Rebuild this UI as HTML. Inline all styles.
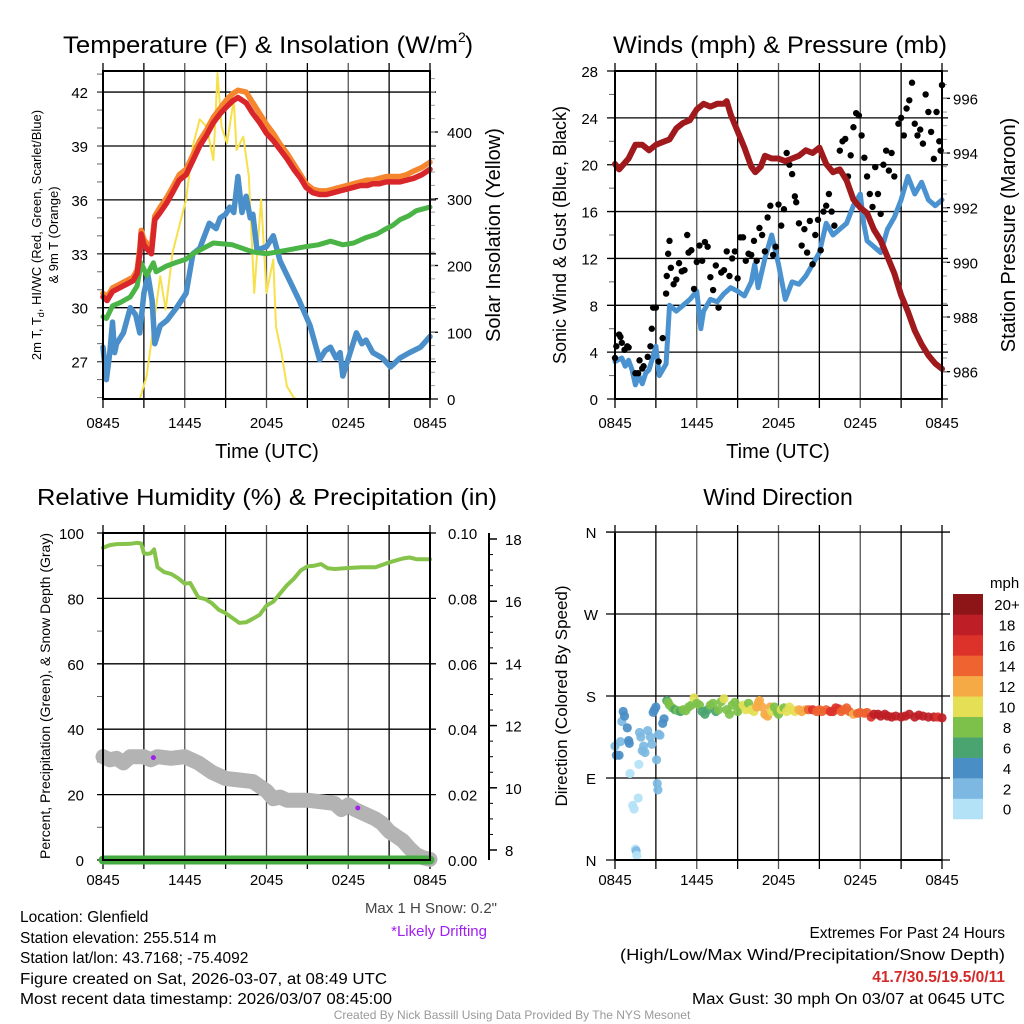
<!DOCTYPE html>
<html><head><meta charset="utf-8"><style>
html,body{margin:0;padding:0;background:#fff}
svg{display:block;font-family:"Liberation Sans",sans-serif}
</style></head><body>
<svg id="root" width="1024" height="1024" viewBox="0 0 1024 1024" xmlns="http://www.w3.org/2000/svg">
<g id="grids"></g>
<g id="marks"></g>
<g id="frames"></g>
<g id="labels" font-size="15" fill="#000"></g>
<g fill="#000">
<text x="63" y="53" font-size="24" textLength="395" lengthAdjust="spacingAndGlyphs">Temperature (F) &amp; Insolation (W/m</text>
<text x="458" y="42" font-size="14">2</text>
<text x="465" y="53" font-size="24">)</text>
<text x="613" y="53" font-size="24" textLength="334" lengthAdjust="spacingAndGlyphs">Winds (mph) &amp; Pressure (mb)</text>
<text x="267" y="505" font-size="23" text-anchor="middle" textLength="460" lengthAdjust="spacingAndGlyphs">Relative Humidity (%) &amp; Precipitation (in)</text>
<text x="778" y="505" font-size="23" text-anchor="middle">Wind Direction</text>
<text x="267" y="458" font-size="20" text-anchor="middle">Time (UTC)</text>
<text x="778" y="458" font-size="20" text-anchor="middle">Time (UTC)</text>
<text transform="translate(41,235) rotate(-90)" font-size="13" text-anchor="middle">2m T, T<tspan font-size="9" dy="3">d</tspan><tspan dy="-3">, HI/WC (Red, Green, Scarlet/Blue)</tspan></text>
<text transform="translate(58,235) rotate(-90)" font-size="13" text-anchor="middle">&amp; 9m T (Orange)</text>
<text transform="translate(500,235) rotate(-90)" font-size="20" text-anchor="middle">Solar Insolation (Yellow)</text>
<text transform="translate(566,235) rotate(-90)" font-size="18" text-anchor="middle">Sonic Wind &amp; Gust (Blue, Black)</text>
<text transform="translate(1015,235) rotate(-90)" font-size="20" text-anchor="middle">Station Pressure (Maroon)</text>
<text transform="translate(50,696) rotate(-90)" font-size="14" text-anchor="middle">Percent, Precipitation (Green), &amp; Snow Depth (Gray)</text>
<text transform="translate(567,696) rotate(-90)" font-size="17" text-anchor="middle">Direction (Colored By Speed)</text>
<text x="990" y="588" font-size="15">mph</text>
</g>
<g font-size="15.5" fill="#000">
<text x="497" y="913" text-anchor="end" fill="#444" font-size="15">Max 1 H Snow: 0.2"</text>
<text x="487" y="936" text-anchor="end" fill="#a020f0" font-size="15">*Likely Drifting</text>
<text x="20" y="922">Location: Glenfield</text>
<text x="20" y="943">Station elevation: 255.514 m</text>
<text x="20" y="963">Station lat/lon: 43.7168; -75.4092</text>
<text x="20" y="984" textLength="367" lengthAdjust="spacingAndGlyphs">Figure created on Sat, 2026-03-07, at 08:49 UTC</text>
<text x="20" y="1004" textLength="372" lengthAdjust="spacingAndGlyphs">Most recent data timestamp: 2026/03/07 08:45:00</text>
<text x="1005" y="938" text-anchor="end">Extremes For Past 24 Hours</text>
<text x="1005" y="960" text-anchor="end" textLength="385" lengthAdjust="spacingAndGlyphs">(High/Low/Max Wind/Precipitation/Snow Depth)</text>
<text x="1005" y="982" text-anchor="end" fill="#d42a2a" font-weight="bold">41.7/30.5/19.5/0/11</text>
<text x="1005" y="1004" text-anchor="end" textLength="313" lengthAdjust="spacingAndGlyphs">Max Gust: 30 mph On 03/07 at 0645 UTC</text>
<text x="512" y="1019" text-anchor="middle" fill="#999" font-size="12">Created By Nick Bassill Using Data Provided By The NYS Mesonet</text>
</g>
</svg>
<script>
// ---------- data ----------
const timeTicks = ["0845","1445","2045","0245","0845"];
const tempTicks = [27,30,33,36,39,42];
const solarTicks = [0,100,200,300,400];
const windTicks = [0,4,8,12,16,20,24,28];
const presTicks = [986,988,990,992,994,996];
const rhTicks = [0,20,40,60,80,100];
const precipTicks = ["0.00","0.02","0.04","0.06","0.08","0.10"];
const snowTicks = [8,10,12,14,16,18];
const dirTicks = ["N","E","S","W","N"];

const tRed = [0,0.3,0.7,1.2,1.7,2.2,2.5,2.7,2.8,3.0,3.2,3.55,3.8,4.2,4.65,5.1,5.6,6.1,6.6,7.1,7.6,8.1,8.6,9.1,9.5,9.9,10.5,11,11.5,12,12.5,13,13.5,14,14.5,14.9,15.4,15.9,16.4,16.9,17.4,17.9,18.4,18.9,19.4,19.8,20.3,20.8,21.3,21.8,22.3,22.8,23.4,24];
const tempRed = [30.6,30.4,30.9,31.1,31.3,31.5,31.9,33.0,34.1,33.5,33.3,33.0,34.9,35.3,35.8,36.4,37.1,37.4,38.2,39.0,39.6,40.3,40.8,41.2,41.5,41.7,41.4,40.8,40.3,39.7,39.3,38.8,38.3,37.7,37.2,36.7,36.4,36.3,36.3,36.4,36.5,36.6,36.7,36.8,36.8,36.9,36.9,37.0,37.0,37.0,37.1,37.2,37.4,37.7];
const tempOrange = [30.8,30.6,31.1,31.3,31.5,31.7,32.1,33.3,34.3,33.8,33.6,33.4,35.1,35.6,36.1,36.7,37.4,37.7,38.5,39.3,39.9,40.6,41.1,41.6,41.9,42.1,42.0,41.4,40.8,40.2,39.7,39.1,38.6,38.0,37.4,36.9,36.6,36.5,36.5,36.6,36.7,36.8,36.9,37.0,37.1,37.1,37.2,37.3,37.3,37.3,37.4,37.6,37.8,38.1];
const tDew = [0,0.25,0.7,1.3,2,2.5,2.8,3.2,3.7,3.9,4.6,5.3,6.1,6.6,7.1,8.1,9.5,11,12,13.5,14.9,15.8,16.7,17.6,18.4,19.3,20.1,20.8,21.3,21.8,22.4,23,24];
const dewGreen = [29.5,29.4,30.1,30.3,30.6,31.2,32.5,31.8,32.5,32.0,32.3,32.5,32.7,33.0,33.2,33.6,33.5,33.1,33.0,33.2,33.4,33.5,33.7,33.5,33.6,33.9,34.1,34.4,34.6,34.9,35.1,35.4,35.6];
const tChill = [0,0.25,0.5,0.7,0.85,1,1.5,2,2.4,2.7,3.0,3.3,3.6,3.8,4.2,4.7,5.4,6.1,6.6,7.1,7.8,8.3,8.6,9.0,9.3,9.6,9.9,10.2,10.5,10.8,11.0,11.3,12,12.5,13,13.7,14.4,15.2,15.9,16.3,16.7,17.1,17.4,17.6,18.1,18.6,19.0,19.3,19.8,20.5,21.1,21.8,22.5,23.3,24];
const chillBlue = [27.8,26.0,27.5,29.2,27.5,28.0,28.6,30.0,29.6,28.6,30.8,31.8,30.4,28.0,29.0,29.3,30.0,30.8,33.0,33.3,34.7,34.4,35.0,35.2,35.6,35.3,37.3,35.3,36.2,35.0,35.2,33.2,33.4,34.0,32.6,31.5,30.4,29.0,27.1,27.6,27.8,27.2,27.5,26.2,27.4,28.6,28.0,28.2,27.5,27.2,26.7,27.2,27.5,27.8,28.4];
const tSolar = [0,2.7,3.2,3.7,4.2,4.6,5.1,5.6,6.1,6.6,7.1,7.6,8.1,8.4,8.7,9.1,9.6,9.8,10.3,10.7,11.1,11.6,12,12.5,12.7,13.1,13.5,14,14.2,24];
const solar = [0,0,34,108,184,134,219,259,299,379,419,408,358,488,408,383,449,373,393,334,159,299,159,209,108,69,19,2,0,0];

const tWind = [0,0.5,0.75,1,1.25,1.5,1.75,2,2.25,2.5,3,3.25,3.5,3.75,4,4.5,5,5.5,6,6.3,6.5,7,7.5,8,8.5,9,9.5,10,10.25,10.5,11,11.5,12,12.5,13,13.5,14,14.5,15,15.5,16,16.5,17,17.5,18,18.25,18.5,19,19.5,20,20.5,21,21.5,22,22.5,23,23.5,24];
const windSpeed = [3.2,3.5,2.8,3.3,2.5,1.2,2.0,1.3,2.2,2.5,4.5,2.0,2.5,3.0,8.0,7.5,8.0,8.5,9.2,6.0,7.5,8.5,8.3,9.0,9.5,9.2,8.8,10.0,11.5,9.5,12.0,14.0,11.5,8.5,10.0,9.8,10.5,11.5,12.5,15.0,14.0,14.5,15.0,16.5,17.5,15.0,13.5,13.0,12.5,14.5,15.5,17.0,19.0,17.5,18.5,17.0,16.5,17.0];
const tPres = [0,0.3,1,1.5,2,2.5,3,3.5,4,4.5,5,5.5,6,6.5,7,7.5,8,8.2,8.5,9,9.5,10,10.3,10.7,11,11.5,12,12.5,13,13.5,14,14.5,15,15.5,16,16.5,17,17.5,18,18.5,19,19.5,20,20.5,21,21.5,22,22.5,23,23.5,24];
const pressure = [993.6,993.4,993.8,994.3,994.3,994.1,994.3,994.4,994.5,994.9,995.1,995.2,995.6,995.8,995.7,995.8,995.8,995.9,995.4,994.8,994.2,993.5,993.3,993.5,993.9,993.8,993.8,993.7,993.8,993.9,994.1,994.0,994.2,993.6,993.3,993.4,993.0,992.3,992.0,991.8,991.2,990.8,990.2,989.6,988.8,988.2,987.5,987.0,986.6,986.3,986.1];
const tGust = [0,0.1,0.3,0.4,0.5,0.7,0.9,1.0,1.5,1.7,1.8,2.0,2.1,2.4,2.6,2.7,2.8,3.0,3.2,3.5,3.75,3.8,3.9,4.0,4.1,4.3,4.5,4.7,4.9,5.1,5.3,5.4,5.6,5.8,6.0,6.2,6.4,6.6,6.8,7.0,7.2,7.4,7.6,7.8,8.0,8.2,8.4,8.6,8.8,9.0,9.2,9.4,9.6,9.8,10.0,10.2,10.4,10.6,10.8,11.0,11.2,11.4,11.6,11.8,12.0,12.2,12.4,12.6,12.8,13.0,13.2,13.3,13.5,13.7,13.9,14.1,14.3,14.5,14.7,14.9,15.1,15.3,15.5,15.7,15.9,16.1,16.3,16.5,16.7,16.9,17.1,17.3,17.5,17.7,17.9,18.1,18.3,18.5,18.7,18.9,19.1,19.3,19.5,19.7,19.9,20.1,20.3,20.5,20.8,21.0,21.2,21.4,21.6,21.8,22.0,22.2,22.4,22.6,22.8,23.0,23.2,23.4,23.6,23.8,23.9,24.0];
const gust = [3.5,4.5,5.5,5.3,4.8,4.2,4.5,4.4,2.2,2.2,3.3,2.6,2.8,3.6,4.5,6.0,7.8,7.8,3.2,5.2,9.0,10.5,12.4,13.5,11.2,9.8,10.2,11.6,10.9,11.0,14.0,12.5,12.7,9.4,11.7,13.1,11.8,13.4,13.0,10.4,9.3,11.4,7.8,10.8,11.0,12.6,10.5,12.0,12.6,10.3,13.8,13.8,11.8,12.4,12.3,13.5,11.8,14.6,14.0,12.6,15.5,16.5,12.3,13.0,16.6,14.8,16.2,21.0,20.0,19.2,17.3,16.8,15.0,13.1,14.5,12.5,15.2,11.5,14.0,15.3,12.7,16.0,16.5,17.5,16.0,14.8,19.5,21.2,22.0,22.2,19.0,20.8,23.2,24.4,24.2,22.5,20.6,19.0,17.5,16.4,19.8,17.5,15.8,20.0,21.2,19.5,21.0,19.0,23.5,24.0,22.5,24.8,25.5,27.0,23.5,22.5,23.0,21.8,26.0,24.5,22.8,20.5,24.5,22.0,21.2,26.8];

const tRH = [0,0.5,1,2,2.5,2.8,3,3.25,3.5,3.75,4,4.5,5,5.5,6,6.4,7,7.5,8,8.5,9,9.5,10,10.5,11,11.5,12,12.5,13,13.5,14,14.5,15,15.5,16,16.5,17,18,19,20,21,22,22.5,23,24];
const rh = [95.5,96.3,96.6,96.7,97.0,96.8,93.8,93.6,93.8,95.0,89.5,88.0,87.5,86.2,84.5,84.7,80.3,79.8,78.5,76.5,75.5,74.0,72.5,72.7,73.8,75.0,77.8,79.0,81.5,84.0,86.0,88.5,89.8,90.0,90.5,89.2,89.0,89.3,89.5,89.5,91.0,92.2,92.5,92.0,92.0];
const tSnow = [0,0.5,1,1.5,2,3,3.5,4,5,6,6.5,7,8,9,10,11,12,12.5,13,13.5,14,15,16,17,17.5,18,18.5,19,20,20.5,21,21.5,22,22.5,23,23.5,24];
const snowDepth = [11.0,10.9,10.95,10.8,11.0,11.0,10.9,11.0,10.95,11.0,10.9,10.8,10.5,10.3,10.25,10.2,9.9,9.65,9.7,9.6,9.6,9.6,9.55,9.5,9.3,9.45,9.3,9.2,9.0,8.85,8.6,8.45,8.3,8.05,7.85,7.75,7.7];
const tPrecip = [0,24];
const precip = [0,0];
const tDrift = [3.7,18.7];
const driftSnow = [10.97,9.35];

const tDir = [0,0.1,0.3,0.4,0.5,0.6,0.7,0.9,1.0,1.05,1.1,1.3,1.4,1.5,1.55,1.6,1.7,1.75,1.8,1.9,2.0,2.1,2.2,2.4,2.6,2.7,2.8,2.9,3.0,3.05,3.1,3.15,3.2,3.3,3.5,3.6,3.8,3.9,4.0,4.2,4.4,4.6,4.8,5.0,5.2,5.4,5.6,5.8,6.0,6.2,6.4,6.6,6.8,7.0,7.2,7.4,7.6,7.8,8.0,8.2,8.4,8.6,8.8,9.0,9.2,9.4,9.6,9.8,10.0,10.2,10.4,10.5,10.6,10.8,11.0,11.2,11.4,11.5,11.7,11.9,12.0,12.2,12.4,12.6,12.8,13.0,13.2,13.5,13.7,14.0,14.2,14.5,14.8,15.0,15.2,15.5,15.8,16.0,16.2,16.4,16.6,16.8,17.0,17.2,17.5,17.8,18.0,18.3,18.5,18.8,19.0,19.3,19.5,19.8,20.0,20.3,20.6,21.0,21.3,21.6,22.0,22.3,22.6,23.0,23.4,23.7,24.0];
const direction = [125,115,115,130,152,163,158,145,131,128,95,60,56,12,10,5,68,105,140,135,120,125,118,142,135,127,162,165,168,110,84,77,138,137,150,155,175,173,170,167,165,164,163,165,164,168,170,178,172,170,163,160,165,170,172,163,165,174,177,165,160,170,173,163,168,170,165,172,165,163,168,172,175,168,160,158,168,163,168,163,160,165,167,163,168,165,163,165,163,165,165,165,163,165,163,165,163,163,167,166,163,165,167,163,160,161,162,161,162,157,160,160,158,160,158,157,158,157,158,160,157,159,158,157,157,157,156];
const dirSpeed = [3,4,4,3,3,4,4,4,4,4,1,1,0,1,2,1,0,1,2,2,2,2,2,2,2,2,4,4,4,3,3,3,2,2,4,4,7,8,8,8,7,8,7,8,8,8,8,10,8,8,6,6,7,8,8,7,8,8,10,9,8,9,8,8,9,10,10,9,10,10,12,12,13,12,13,13,12,10,9,8,8,10,9,10,10,11,11,12,12,13,14,16,15,14,14,15,16,17,16,16,15,14,14,14,13,14,14,14,14,16,18,18,18,18,19,18,18,19,18,18,18,18,18,18,18,17,18];
const speedBins = ["0","2","4","6","8","10","12","14","16","18","20+"];
const speedColors = ["#b3e2f7","#7cb8e2","#4a8ec6","#4aa46f","#7dc14a","#e4df55","#f6aa46","#ee6330","#dc3229","#be1e26","#8d1518"];

// ---------- helpers ----------
const NS = "http://www.w3.org/2000/svg";
const G = id => document.getElementById(id);
function el(tag, attrs, parent){ const e=document.createElementNS(NS,tag); for(const k in attrs) e.setAttribute(k,attrs[k]); parent.appendChild(e); return e; }
const W = 327;
const xA = t => 103 + t/24*W;
const xB = t => 615 + t/24*W;
const yTemp = v => 399 - (v-24.92)*17.97;
const ySol = v => 399 - v*0.6675;
const yWind = v => 399 - v*11.714;
const yPres = v => 399 - (v-985)*27.33;
const yRH = v => 860 - v*3.27;
const ySnow = v => 850 - (v-8)*31.1;
const yDir = d => 860 - d*0.911;

function pathD(ts, vs, fx, fy){ return ts.map((t,i)=>(i?"L":"M")+fx(t).toFixed(1)+","+fy(vs[i]).toFixed(1)).join(""); }
function drawLine(ts, vs, fx, fy, color, w, name){
  const p = el("path",{d:pathD(ts,vs,fx,fy),fill:"none",stroke:color,"stroke-width":w,"stroke-linejoin":"round","stroke-linecap":"round"},G("marks"));
  
  
  return p;
}
function txt(x,y,s,anchor,size,parent,name){
  const t = el("text",{x:x,y:y,"text-anchor":anchor||"start"},parent||G("labels"));
  if(size) t.setAttribute("font-size",size);
  t.textContent = s;
  
  
  return t;
}
function gl(x1,y1,x2,y2,color,w,parent){
  const l = el("line",{x1:x1,y1:y1,x2:x2,y2:y2,stroke:color,"stroke-width":w},parent||G("grids"));
  
  
  return l;
}
function box(x0,y0,x1,y1,name){
  const r = el("rect",{x:x0,y:y0,width:x1-x0,height:y1-y0,fill:"none",stroke:"#000","stroke-width":2},G("frames"));
  
  
}
function vgrid(fx, top, bot){
  for(let i=1;i<8;i++){ gl(fx(i*3),top-8,fx(i*3),bot+9,(i%2)?"#000":"#555",1.3); }
  gl(fx(0),top-8,fx(0),bot+9,"#000",1.3); gl(fx(24),top-8,fx(24),bot+9,"#000",1.3);
}
function xlabels(fx, y){ timeTicks.forEach((s,i)=>txt(fx(i*6),y,s,"middle",15,null,'x-tick-label')); }

// ---------- panel 1: temperature ----------
vgrid(xA,71,399);
tempTicks.forEach(v=>{ gl(97,yTemp(v),436,yTemp(v),"#000",1.3); txt(88,yTemp(v)+6,String(v),"end",15,null,'temp-tick-label'); });
for(let v=25;v<=43;v++){ gl(97,yTemp(v),103,yTemp(v),"#666",1); }
solarTicks.forEach(v=>{ gl(430,ySol(v),438,ySol(v),"#000",1.3); txt(447,ySol(v)+6,String(v),"start",15,null,'solar-tick-label'); });
for(let v=20;v<=480;v+=20){ gl(430,ySol(v),435,ySol(v),"#999",1); }
xlabels(xA,428);
drawLine(tSolar,solar,xA,ySol,"#f7e04a",2,'solar-insolation-line');
drawLine(tChill,chillBlue,xA,yTemp,"#4a8fc9",5.5,'wind-chill-line');
drawLine(tDew,dewGreen,xA,yTemp,"#4bb446",5,'dewpoint-line');
drawLine(tRed,tempOrange,xA,yTemp,"#f5862e",5.5,'temp-9m-line');
drawLine(tRed,tempRed,xA,yTemp,"#d8262a",5.5,'temp-2m-line');
box(103,71,430,399,'temp-plot-frame');

// ---------- panel 2: winds ----------
vgrid(xB,71,399);
windTicks.forEach(v=>{ gl(607,yWind(v),948,yWind(v),"#000",1.3); txt(598,yWind(v)+6,String(v),"end",15,null,'wind-tick-label'); });
for(let v=2;v<28;v+=4){ gl(609,yWind(v),615,yWind(v),"#666",1); }
presTicks.forEach(v=>{ gl(942,yPres(v),950,yPres(v),"#000",1.3); txt(953,yPres(v)+6,String(v),"start",15,null,'pressure-tick-label'); });
for(let v=985.5;v<997;v+=0.5){ gl(942,yPres(v),947,yPres(v),"#999",1); }
xlabels(xB,428);
drawLine(tWind,windSpeed,xB,yWind,"#4a93d0",5,'sonic-wind-line');
tGust.forEach((t,i)=>{
  const c = el("circle",{cx:xB(t),cy:yWind(gust[i]),r:3.2,fill:"#000"},G("marks"));
  
  
});
drawLine(tPres,pressure,xB,yPres,"#a01a1d",6,'pressure-line');
box(615,71,942,399,'winds-plot-frame');

// ---------- panel 3: humidity ----------
vgrid(xA,533,860);
rhTicks.forEach((v,i)=>{ gl(97,yRH(v),436,yRH(v),"#000",1.3); txt(84,yRH(v)+6,String(v),"end",15,null,'rh-tick-label'); txt(448,yRH(v)+6,precipTicks[i],"start",15,null,'precip-tick-label'); });
for(let v=10;v<100;v+=20){ gl(97,yRH(v),103,yRH(v),"#666",1); }
gl(489,533,489,860,"#000",2,G("frames"));
snowTicks.forEach(v=>{ gl(489,ySnow(v),497,ySnow(v),"#000",1.5,G("frames")); txt(505,ySnow(v)+6,String(v),"start",15,null,'snow-tick-label'); });
for(let v=8.5;v<18;v+=0.5){ gl(489,ySnow(v),493,ySnow(v),"#000",1,G("frames")); }
xlabels(xA,885);
drawLine(tSnow,snowDepth,xA,ySnow,"#b3b3b3",15,'snow-depth-line');
drawLine(tRH,rh,xA,yRH,"#86c34a",4,'relative-humidity-line');
drawLine(tPrecip,precip,xA,yRH,"#43ab3f",9,'precipitation-line');
tDrift.forEach((t,i)=>{
  const c = el("circle",{cx:xA(t),cy:ySnow(driftSnow[i]),r:2.5,fill:"#a020f0"},G("marks"));
  
  
});
box(103,533,430,860,'humidity-plot-frame');

// ---------- panel 4: wind direction ----------
vgrid(xB,533,860);
dirTicks.forEach((s,i)=>{ gl(606,yDir(i*90),950,yDir(i*90),"#000",1.3); txt(591,yDir(i*90)+6,s,"middle",15,null,'direction-tick-label'); });
xlabels(xB,885);
tDir.forEach((t,i)=>{
  const b = Math.min(10, Math.floor(dirSpeed[i]/2));
  const c = el("circle",{cx:xB(t),cy:yDir(direction[i]),r:4.6,fill:speedColors[b],"fill-opacity":0.92},G("marks"));
  
  
});
const cbTop=594, cbH=20.45;
speedBins.forEach((s,i)=>{
  const y = cbTop + (10-i)*cbH;
  const r = el("rect",{x:953,y:y,width:30,height:cbH+0.3,fill:speedColors[i]},G("marks"));
  
  
  txt(1007,y+cbH/2+6,s,"middle",15,null,'colorbar-label');
});
gl(615,533,615,860,"#000",2,G("frames"));
gl(615,860,942,860,"#000",2,G("frames"));
</script>
</body></html>
